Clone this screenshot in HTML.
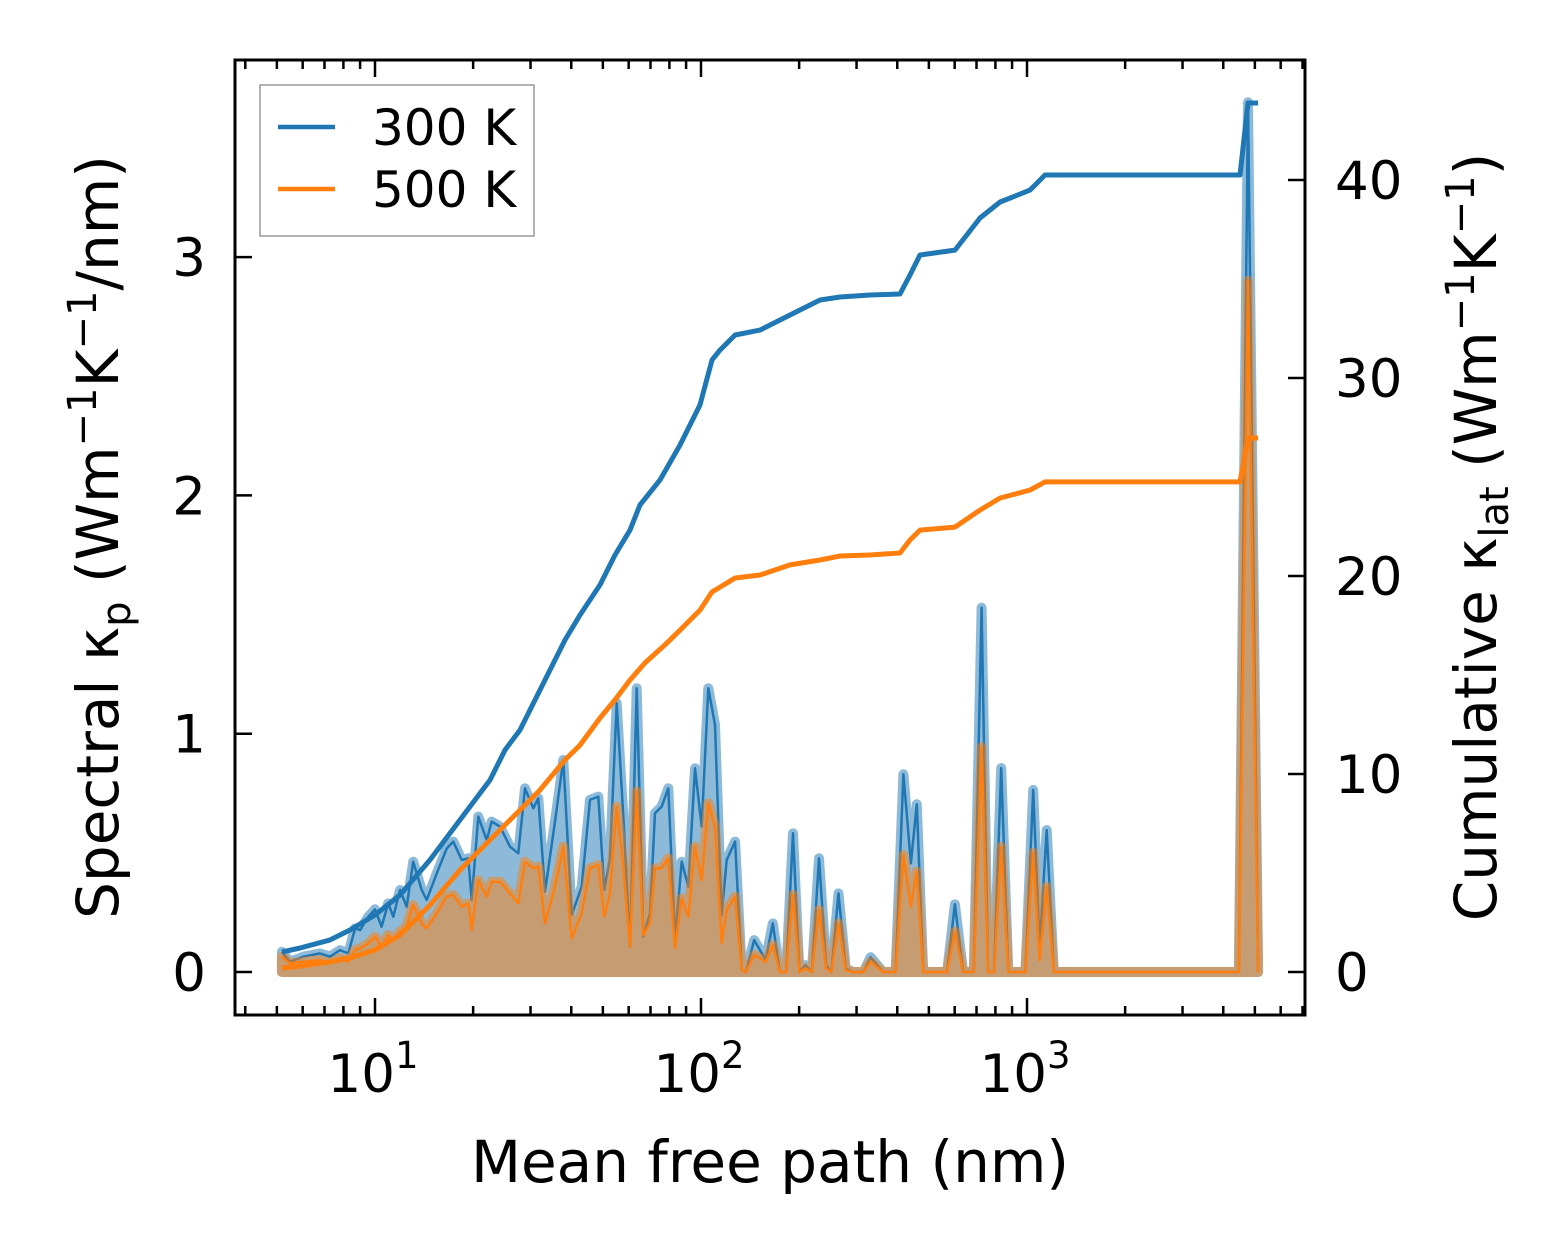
<!DOCTYPE html>
<html><head><meta charset="utf-8">
<style>
html,body{margin:0;padding:0;background:#fff;}
svg{display:block;font-family:"DejaVu Sans","Liberation Sans",sans-serif;}
</style></head>
<body>
<svg id="chart" width="1567" height="1254" viewBox="0 0 1567 1254" xmlns="http://www.w3.org/2000/svg">
<rect x="0" y="0" width="1567" height="1254" fill="#fff"/>
<g id="plot"></g>
<g id="axes"></g>
<g>
  <rect x="260" y="85" width="274" height="151" fill="#fff" stroke="#999" stroke-width="1.5"/>
  <line x1="278" y1="127" x2="335" y2="127" stroke="#1f77b4" stroke-width="4.5"/>
  <text x="372" y="145" font-size="50" fill="#000">300 K</text>
  <line x1="278" y1="189" x2="335" y2="189" stroke="#ff7f0e" stroke-width="4.5"/>
  <text x="372" y="207" font-size="50" fill="#000">500 K</text>
</g>
<text x="770" y="1182" font-size="58" text-anchor="middle">Mean free path (nm)</text>
<text transform="translate(118,537) rotate(-90)" font-size="58" text-anchor="middle">Spectral κ<tspan font-size="40" dy="12">p</tspan><tspan dy="-12"> (Wm</tspan><tspan font-size="40" dy="-22">−1</tspan><tspan dy="22">K</tspan><tspan font-size="40" dy="-22">−1</tspan><tspan dy="22">/nm)</tspan></text>
<text transform="translate(1496,537) rotate(-90)" font-size="58" text-anchor="middle">Cumulative κ<tspan font-size="40" dy="12">lat</tspan><tspan dy="-12"> (Wm</tspan><tspan font-size="40" dy="-22">−1</tspan><tspan dy="22">K</tspan><tspan font-size="40" dy="-22">−1</tspan><tspan dy="22">)</tspan></text>
</svg>
<script>
// ---- data ----
const specX = [5.18,5.48,6.03,6.78,7.28,7.81,8.28,8.69,9.00,9.54,10.0,10.48,10.98,11.38,11.93,12.51,13.10,13.91,14.41,15.47,16.60,17.39,18.45,19.33,19.80,20.75,22.01,22.80,24.18,25.95,27.52,28.85,30.59,31.69,33.23,35.66,37.82,40.13,43.06,45.66,48.42,50.51,52.59,55.13,57.77,60.56,63.50,66.53,69.75,72.25,75.74,79.38,83.22,87.27,91.42,95.85,100.5,105.3,110.4,115.7,119.9,127.2,133.3,
137.4,145.6,157.9,166.0,174.5,182.5,191.5,200.4,209.1,218.9,230.1,241.9,251.2,264.1,277.9,292.2,315.1,331.3,361.6,395.2,417.6,440.3,459.2,480.4,568.7,601.0,636.8,686.8,725.6,759.3,792.2,833.5,876.3,988.8,1044.7,1093.0,1149.0,1208.5,4467,4764,5117];
const spec300 = [0.085,0.043,0.064,0.078,0.064,0.092,0.078,0.183,0.176,0.232,0.263,0.190,0.288,0.232,0.344,0.274,0.463,0.344,0.302,0.414,0.519,0.547,0.470,0.477,0.302,0.652,0.554,0.631,0.610,0.526,0.498,0.771,0.687,0.729,0.337,0.631,0.890,0.239,0.358,0.722,0.736,0.344,0.477,1.128,0.652,0.106,1.191,0.148,0.246,0.666,0.694,0.771,0.134,0.463,0.358,0.855,0.610,1.191,1.037,0.239,0.470,0.547,0.008,
0,0.134,0.050,0.204,0,0,0.582,0,0.029,0,0.477,0.029,0,0.330,0.015,0,0,0.062,0,0,0.830,0.456,0.704,0,0,0.284,0,0,1.529,0,0,0.856,0,0,0.764,0.10,0.596,0,0,3.65,0];
const spec500 = [0.064,0.037,0.043,0.050,0.037,0.057,0.043,0.092,0.099,0.120,0.148,0.106,0.155,0.134,0.169,0.190,0.281,0.204,0.183,0.246,0.316,0.323,0.274,0.288,0.176,0.385,0.316,0.379,0.379,0.330,0.288,0.463,0.435,0.442,0.204,0.358,0.526,0.141,0.246,0.435,0.449,0.232,0.330,0.694,0.442,0.106,0.757,0.155,0.204,0.435,0.435,0.477,0.099,0.309,0.232,0.526,0.386,0.708,0.610,0.120,0.260,0.316,0.008,
0,0.071,0.043,0.113,0,0,0.323,0,0.015,0,0.260,0.015,0,0.204,0.008,0,0,0.043,0,0,0.491,0.274,0.421,0,0,0.169,0,0,0.944,0,0,0.525,0,0,0.50,0.05,0.357,0,0,2.9,0];
const cum300X = [5.18,5.89,7.28,8.38,10,11.93,14.75,18.23,22.54,25.05,27.85,32.08,38.27,42.55,48.99,54.47,60.56,64.99,74.86,86.26,99.3,108.1,114.4,127.2,151.7,187.5,231.7,266.9,330.0,407.7,437.7,469.7,601.4,717.6,826.9,1021.4,1135.7,4502,4764,5117];
const cum300 = [1.01,1.21,1.62,2.12,2.88,3.89,5.66,7.68,9.70,11.21,12.22,14.24,16.77,18.03,19.55,21.06,22.32,23.59,24.85,26.62,28.64,30.91,31.41,32.17,32.42,33.18,33.94,34.09,34.19,34.24,35.20,36.21,36.46,38.08,38.89,39.49,40.25,40.25,43.89,43.89];
const cum500X = [5.18,5.89,7.28,8.38,10,11.93,14.75,18.23,22.54,27.85,32.08,38.27,42.55,48.99,54.47,60.56,67.33,77.5,86.26,99.3,108.1,127.2,151.7,187.5,231.7,266.9,330.0,407.7,437.7,469.7,601.4,717.6,826.9,1021.4,1135.7,4502,4764,5117];
const cum500 = [0.20,0.30,0.51,0.71,1.11,1.87,3.38,5.15,6.67,8.18,9.19,10.71,11.46,12.83,13.74,14.75,15.61,16.52,17.27,18.28,19.19,19.90,20.05,20.56,20.81,21.01,21.06,21.16,21.82,22.32,22.47,23.33,23.94,24.34,24.75,24.75,26.97,26.97];
const leftTicks = [0,1,2,3];
const rightTicks = [0,10,20,30,40];
const xMajor = [1,2,3];

// ---- axes ----
const L=235,R=1305,T=60,B=1015;
const sx = v => 375 + (Math.log10(v)-1)*326;
const syL = v => 972 - v*238.3;
const syR = v => 972 - v*19.8;
const NS='http://www.w3.org/2000/svg';
function mk(tag, attrs, parent){const e=document.createElementNS(NS,tag);for(const k in attrs)e.setAttribute(k,attrs[k]);parent.appendChild(e);return e;}
const plot=document.getElementById('plot'), axes=document.getElementById('axes');

function fillPath(xs, ys){
  let d='M'+sx(xs[0]).toFixed(1)+','+syL(0).toFixed(1);
  for(let i=0;i<xs.length;i++) d+=' L'+sx(xs[i]).toFixed(1)+','+syL(ys[i]).toFixed(1);
  d+=' L'+sx(xs[xs.length-1]).toFixed(1)+','+syL(0).toFixed(1)+' Z';
  return d;
}
function linePath(xs, ys, fy){
  let d='';
  for(let i=0;i<xs.length;i++) d+=(i?' L':'M')+sx(xs[i]).toFixed(1)+','+fy(ys[i]).toFixed(1);
  return d;
}
[[spec300,'#1f77b4','spectral-300k'],[spec500,'#ff7f0e','spectral-500k']].forEach(([ys,c,n])=>{
  const g=mk('g',{opacity:0.5},plot);
  
  
  const p=mk('path',{d:fillPath(specX,ys),fill:c,stroke:c,'stroke-width':10,'stroke-linejoin':'round','stroke-linecap':'round'},g);
  
  
  const l=mk('path',{d:linePath(specX,ys,syL),fill:'none',stroke:c,'stroke-width':2.5,'stroke-linejoin':'round'},plot);
  
  
});
const c3=mk('path',{d:linePath(cum300X,cum300,syR),fill:'none',stroke:'#1f77b4','stroke-width':5,'stroke-linejoin':'round'},plot);


const c5=mk('path',{d:linePath(cum500X,cum500,syR),fill:'none',stroke:'#ff7f0e','stroke-width':5,'stroke-linejoin':'round'},plot);



// spines
const fr=mk('rect',{x:L,y:T,width:R-L,height:B-T,fill:'none',stroke:'#000','stroke-width':3},axes);


// x ticks
for(let e=0;e<=3;e++){
  for(let m=1;m<=9;m++){
    const v=m*Math.pow(10,e); const x=sx(v);
    if(x<L+2||x>R-2) continue;
    const len = m===1?17:9;
    const t1=mk('line',{x1:x,y1:B,x2:x,y2:B-len,stroke:'#000','stroke-width':2.5},axes);
    
    
    const t2=mk('line',{x1:x,y1:T,x2:x,y2:T+len,stroke:'#000','stroke-width':2.5},axes);
    
    
  }
}
xMajor.forEach(p=>{
  const x=sx(Math.pow(10,p));
  const t=mk('text',{x:x-2,y:1092,'font-size':53,'text-anchor':'middle'},axes);
  t.textContent='10';
  const s=mk('tspan',{'font-size':37,dy:-24},t);
  s.textContent=String(p);
  
  
});
leftTicks.forEach(v=>{
  const y=syL(v);
  const l=mk('line',{x1:L,y1:y,x2:L+17,y2:y,stroke:'#000','stroke-width':2.5},axes);
  
  
  const t=mk('text',{x:206,y:y+19,'font-size':53,'text-anchor':'end'},axes);
  t.textContent=String(v);
  
  
});
rightTicks.forEach(v=>{
  const y=syR(v);
  const l=mk('line',{x1:R,y1:y,x2:R-17,y2:y,stroke:'#000','stroke-width':2.5},axes);
  
  
  const t=mk('text',{x:1335,y:y+19,'font-size':53,'text-anchor':'start'},axes);
  t.textContent=String(v);
  
  
});
</script>
</body></html>
